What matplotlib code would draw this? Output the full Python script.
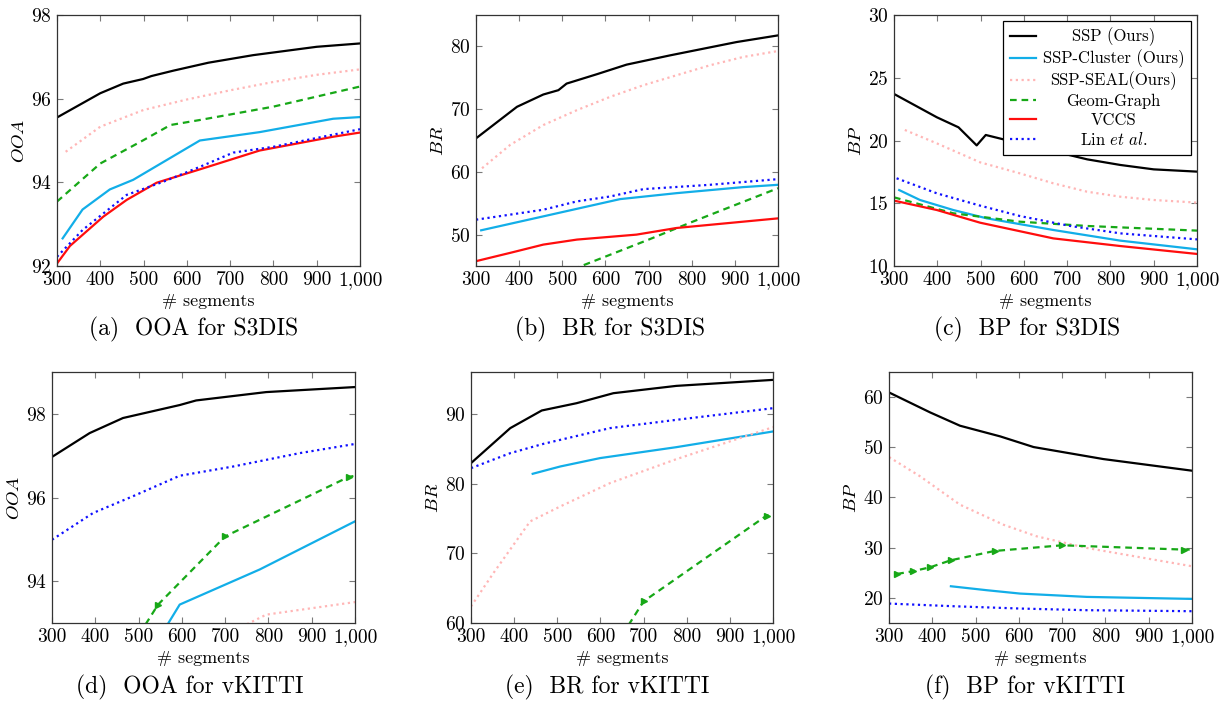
import numpy as np
import matplotlib
matplotlib.use("Agg")
import matplotlib.pyplot as plt
from matplotlib.ticker import FuncFormatter
from matplotlib.offsetbox import VPacker

plt.rcParams['font.family'] = 'serif'
plt.rcParams['font.serif'] = ['cmr10', 'DejaVu Serif']
plt.rcParams['mathtext.fontset'] = 'cm'
plt.rcParams['axes.unicode_minus'] = False
plt.rcParams['axes.formatter.use_mathtext'] = True

# ---------------- data ----------------
# (a) OOA for S3DIS
a_ssp_x = [300, 400, 453, 499, 518, 569, 650, 753, 900, 1000]
a_ssp_y = [95.55, 96.13, 96.36, 96.47, 96.54, 96.67, 96.86, 97.04, 97.24, 97.32]
a_clu_x = [313, 359, 422, 476, 630, 768, 938, 1000]
a_clu_y = [92.66, 93.35, 93.83, 94.06, 95.0, 95.2, 95.52, 95.56]
a_seal_x = [320, 400, 500, 600, 700, 800, 900, 1000]
a_seal_y = [94.73, 95.33, 95.73, 95.98, 96.20, 96.40, 96.57, 96.70]
a_geom_x = [300, 400, 500, 562, 630, 800, 1000]
a_geom_y = [93.54, 94.45, 95.01, 95.37, 95.49, 95.81, 96.29]
a_vccs_x = [300, 330, 407, 461, 530, 630, 768, 938, 1000]
a_vccs_y = [92.06, 92.48, 93.18, 93.58, 93.99, 94.31, 94.76, 95.09, 95.19]
a_lin_x = [300, 359, 461, 547, 630, 707, 800, 1000]
a_lin_y = [92.22, 92.86, 93.70, 94.02, 94.37, 94.71, 94.85, 95.27]

# (b) BR for S3DIS
b_ssp_x = [300, 395, 456, 491, 510, 580, 649, 750, 904, 1000]
b_ssp_y = [65.34, 70.37, 72.33, 73.02, 74.07, 75.56, 77.09, 78.57, 80.69, 81.75]
b_clu_x = [312, 456, 634, 765, 919, 1000]
b_clu_y = [50.69, 52.91, 55.66, 56.61, 57.57, 57.94]
b_seal_x = [314, 379, 456, 534, 611, 688, 765, 842, 919, 1000]
b_seal_y = [60.58, 64.29, 67.46, 69.84, 71.96, 73.81, 75.40, 76.98, 78.31, 79.26]
b_geom_x = [300, 400, 500, 600, 700, 800, 900, 1000]
b_geom_y = [38.5, 41.1, 43.8, 46.5, 49.2, 52.0, 54.7, 57.4]
b_vccs_x = [300, 379, 456, 534, 672, 765, 1000]
b_vccs_y = [45.77, 47.09, 48.41, 49.21, 50.0, 51.06, 52.59]
b_lin_x = [300, 456, 534, 611, 688, 842, 1000]
b_lin_y = [52.38, 53.97, 55.3, 56.08, 57.25, 57.94, 58.84]

# (c) BP for S3DIS
c_ssp_x = [300, 399, 449, 491, 512, 553, 600, 668, 746, 823, 900, 1000]
c_ssp_y = [23.71, 21.85, 21.05, 19.61, 20.44, 20.09, 19.7, 19.15, 18.5, 18.05, 17.70, 17.52]
c_clu_x = [312, 360, 437, 514, 668, 823, 1000]
c_clu_y = [16.05, 15.26, 14.46, 13.80, 12.87, 12.02, 11.33]
c_seal_x = [325, 399, 499, 591, 668, 746, 823, 900, 1000]
c_seal_y = [20.84, 19.77, 18.26, 17.38, 16.59, 15.92, 15.52, 15.26, 15.05]
c_geom_x = [300, 437, 591, 746, 1000]
c_geom_y = [15.47, 14.20, 13.53, 13.19, 12.82]
c_vccs_x = [300, 399, 499, 668, 823, 1000]
c_vccs_y = [15.21, 14.46, 13.45, 12.20, 11.59, 10.96]
c_lin_x = [306, 399, 499, 591, 707, 823, 1000]
c_lin_y = [16.99, 15.79, 14.81, 13.98, 13.19, 12.60, 12.12]

# (d) OOA for vKITTI
d_ssp_x = [300, 387, 464, 595, 633, 795, 1000]
d_ssp_y = [96.97, 97.54, 97.90, 98.21, 98.32, 98.52, 98.64]
d_clu_x = [445, 595, 780, 1000]
d_clu_y = [90.9, 93.44, 94.28, 95.43]
d_seal_x = [300, 445, 600, 795, 1000]
d_seal_y = [89.5, 91.0, 92.2, 93.2, 93.5]
d_geom_x = [445, 545, 700, 985, 1000]
d_geom_y = [91.8, 93.44, 95.07, 96.49, 96.52]
d_lin_x = [300, 395, 487, 595, 718, 872, 1000]
d_lin_y = [94.99, 95.63, 96.03, 96.52, 96.74, 97.06, 97.28]

# (e) BR for vKITTI
e_ssp_x = [300, 391, 464, 545, 630, 776, 1000]
e_ssp_y = [82.93, 87.95, 90.48, 91.53, 92.96, 94.01, 94.87]
e_clu_x = [443, 507, 599, 776, 1000]
e_clu_y = [81.40, 82.45, 83.65, 85.22, 87.47]
e_seal_x = [300, 352, 437, 507, 622, 776, 1000]
e_seal_y = [62.38, 67.16, 74.57, 76.72, 80.06, 83.50, 88.09]
e_geom_x = [545, 700, 985, 1000]
e_geom_y = [48.0, 63.1, 75.4, 75.7]
e_lin_x = [300, 391, 468, 622, 776, 1000]
e_lin_y = [82.21, 84.36, 85.70, 87.95, 89.14, 90.81]

# (f) BP for vKITTI
f_ssp_x = [300, 395, 464, 557, 634, 795, 1000]
f_ssp_y = [60.93, 56.95, 54.30, 52.17, 50.05, 47.66, 45.34]
f_clu_x = [443, 526, 603, 757, 1000]
f_clu_y = [22.32, 21.53, 20.86, 20.20, 19.80]
f_seal_x = [300, 372, 464, 564, 641, 757, 911, 1000]
f_seal_y = [48.06, 44.21, 38.57, 34.59, 32.27, 29.95, 27.63, 26.30]
f_geom_x = [319, 355, 395, 443, 544, 700, 982, 1000]
f_geom_y = [24.78, 25.31, 26.10, 27.50, 29.35, 30.48, 29.62, 29.62]
f_lin_x = [300, 449, 603, 757, 1000]
f_lin_y = [18.87, 18.34, 17.88, 17.55, 17.35]

labels = ['SSP (Ours)', 'SSP-Cluster (Ours)', 'SSP-SEAL(Ours)',
          'Geom-Graph', 'VCCS', r'Lin $et\ al.$']
captions = ['(a)  OOA for S3DIS', '(b)  BR for S3DIS', '(c)  BP for S3DIS',
            '(d)  OOA for vKITTI', '(e)  BR for vKITTI', '(f)  BP for vKITTI']
ylabels = ['OOA', 'BR', 'BP', 'OOA', 'BR', 'BP']
xticks = [300, 400, 500, 600, 700, 800, 900, 1000]

# ---------------- styles ----------------
BLACK = '#000000'
CYAN = '#12aee8'
PINK = '#ffb6b6'
GREEN = '#17a817'
RED = '#ff0d0d'
BLUE = '#1010ff'
LW = 1.6


def style_axis(ax, ylim, yticks, ylab):
    ax.set_xlim(300, 1000)
    ax.set_ylim(*ylim)
    ax.set_xticks(xticks)
    ax.set_yticks(yticks)
    ax.xaxis.set_major_formatter(FuncFormatter(lambda v, p: f'{int(v):,}'))
    ax.tick_params(direction='in', top=True, right=True, length=4,
                   color='#7a7a7a', labelsize=14, pad=4)
    for s in ax.spines.values():
        s.set_color('#333333')
        s.set_linewidth(0.9)
    ax.set_xlabel('# segments', fontsize=13, labelpad=3)
    ax.set_ylabel('$' + ylab + '$', fontsize=13.5, labelpad=2)


def draw_series(ax, ssp, clu, seal, geom, lin, vccs=None, markers=False):
    ax.plot(*ssp, color=BLACK, lw=LW, label=labels[0])
    ax.plot(*clu, color=CYAN, lw=LW, label=labels[1])
    ax.plot(*seal, color=PINK, lw=LW, ls=(0, (1, 1.6)), label=labels[2])
    if markers:
        n = len(geom[0])
        ax.plot(*geom, color=GREEN, lw=LW, ls=(0, (3, 2.2)), marker='>',
                ms=4, markevery=list(range(n - 1)), label=labels[3])
    else:
        ax.plot(*geom, color=GREEN, lw=LW, ls=(0, (3, 2.2)), label=labels[3])
    if vccs is not None:
        ax.plot(*vccs, color=RED, lw=LW, label=labels[4])
    else:
        ax.plot([], [], color=RED, lw=LW, label=labels[4])
    ax.plot(*lin, color=BLUE, lw=LW, ls=(0, (1, 1.6)), label=labels[5])


fig = plt.figure(figsize=(12.25, 7.02), dpi=100)
W, H = 1225.0, 702.0

# axes boxes in pixels: left, top, right, bottom
boxes = [(57, 15, 360, 266), (476, 15, 778, 266), (894, 15, 1197, 266),
         (52, 372, 355, 623), (471, 372, 773, 623), (889, 372, 1192, 623)]
caption_x = [194, 610, 1027, 190, 607, 1025]
caption_y = [329, 329, 329, 687, 687, 687]

axes = []
for (l, t, r, b) in boxes:
    axes.append(fig.add_axes([l / W, 1 - b / H, (r - l) / W, (b - t) / H]))

draw_series(axes[0], (a_ssp_x, a_ssp_y), (a_clu_x, a_clu_y), (a_seal_x, a_seal_y),
            (a_geom_x, a_geom_y), (a_lin_x, a_lin_y), vccs=(a_vccs_x, a_vccs_y))
style_axis(axes[0], (92, 98), [92, 94, 96, 98], ylabels[0])

draw_series(axes[1], (b_ssp_x, b_ssp_y), (b_clu_x, b_clu_y), (b_seal_x, b_seal_y),
            (b_geom_x, b_geom_y), (b_lin_x, b_lin_y), vccs=(b_vccs_x, b_vccs_y))
style_axis(axes[1], (45, 85), [50, 60, 70, 80], ylabels[1])

draw_series(axes[2], (c_ssp_x, c_ssp_y), (c_clu_x, c_clu_y), (c_seal_x, c_seal_y),
            (c_geom_x, c_geom_y), (c_lin_x, c_lin_y), vccs=(c_vccs_x, c_vccs_y))
style_axis(axes[2], (10, 30), [10, 15, 20, 25, 30], ylabels[2])

draw_series(axes[3], (d_ssp_x, d_ssp_y), (d_clu_x, d_clu_y), (d_seal_x, d_seal_y),
            (d_geom_x, d_geom_y), (d_lin_x, d_lin_y), markers=True)
style_axis(axes[3], (93, 99), [94, 96, 98], ylabels[3])

draw_series(axes[4], (e_ssp_x, e_ssp_y), (e_clu_x, e_clu_y), (e_seal_x, e_seal_y),
            (e_geom_x, e_geom_y), (e_lin_x, e_lin_y), markers=True)
style_axis(axes[4], (60, 96), [60, 70, 80, 90], ylabels[4])

draw_series(axes[5], (f_ssp_x, f_ssp_y), (f_clu_x, f_clu_y), (f_seal_x, f_seal_y),
            (f_geom_x, f_geom_y), (f_lin_x, f_lin_y), markers=True)
style_axis(axes[5], (15, 65), [20, 30, 40, 50, 60], ylabels[5])

leg = axes[2].legend(loc='upper right', fontsize=12, frameon=True, fancybox=False,
                     edgecolor='black', framealpha=1, borderaxespad=0.35,
                     handlelength=1.6, handletextpad=0.4, labelspacing=0.2,
                     borderpad=0.4)
leg.get_frame().set_linewidth(0.9)

# centre the legend labels in their column, like pgfplots does
fig.canvas.draw()
renderer = fig.canvas.get_renderer()
text_w = max(t.get_window_extent(renderer).width for t in leg.get_texts())
for column in leg._legend_handle_box.get_children():
    for row in column.get_children():
        kids = row.get_children()
        kids[1] = VPacker(pad=0, sep=0, width=text_w, align='center',
                          children=[kids[1]])

for i, cap in enumerate(captions):
    fig.text(caption_x[i] / W, 1 - caption_y[i] / H, cap, fontsize=17,
             ha='center', va='center')

fig.savefig('out.png', dpi=100)
